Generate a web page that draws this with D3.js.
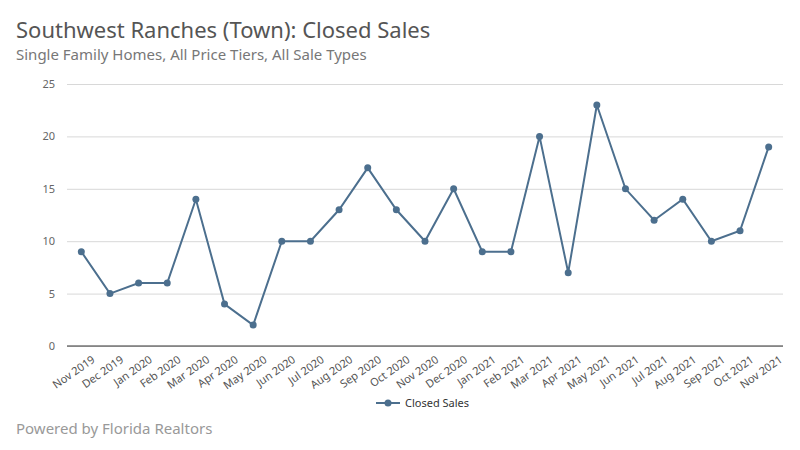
<!DOCTYPE html>
<html><head><meta charset="utf-8">
<script src="https://cdn.jsdelivr.net/npm/d3@7"></script>
<style>body{margin:0;background:#fff;font-family:"Noto Sans",sans-serif}</style>
</head><body><svg id="c" width="800" height="450"></svg>
<script>
const months = ["Nov 2019","Dec 2019","Jan 2020","Feb 2020","Mar 2020","Apr 2020","May 2020","Jun 2020","Jul 2020","Aug 2020","Sep 2020","Oct 2020","Nov 2020","Dec 2020","Jan 2021","Feb 2021","Mar 2021","Apr 2021","May 2021","Jun 2021","Jul 2021","Aug 2021","Sep 2021","Oct 2021","Nov 2021"];
const closedSales = [9,5,6,6,14,4,2,10,10,13,17,13,10,15,9,9,20,7,23,15,12,14,10,11,19];
const yTicks = [0,5,10,15,20,25];
const color = "#4c6f8e";
const svg = d3.select("#c");
const L=67,R=783,T=84,B=346;
const x = d3.scalePoint().domain(months).range([L,R]).padding(0.5);
const y = d3.scaleLinear().domain([0,25]).range([B,T]);
svg.append("text").attr("x",16).attr("y",38).attr("font-size",22).attr("fill","#555").text("Southwest Ranches (Town): Closed Sales");
svg.append("text").attr("x",16).attr("y",60).attr("font-size",15).attr("fill","#777").text("Single Family Homes, All Price Tiers, All Sale Types");
const ya = svg.append("g").attr("transform",`translate(${L},0)`).call(d3.axisLeft(y).tickValues(yTicks).tickSize(-(R-L)).tickPadding(12));
ya.select(".domain").remove();
ya.selectAll("line").attr("stroke","#d8d8d8");
ya.selectAll("text").attr("font-size",11).attr("fill","#666").attr("font-family","Noto Sans");
svg.append("line").attr("x1",L).attr("x2",R).attr("y1",B).attr("y2",B).attr("stroke","#333");
const xa = svg.append("g").attr("transform",`translate(0,${B})`).call(d3.axisBottom(x).tickSize(0).tickPadding(6));
xa.select(".domain").remove();
xa.selectAll("text").attr("font-size",11).attr("fill","#555").attr("font-family","Noto Sans")
  .attr("text-anchor","end").attr("transform","translate(6,4) rotate(-35)");
svg.append("path").datum(closedSales).attr("fill","none").attr("stroke",color).attr("stroke-width",2)
  .attr("d",d3.line().x((d,i)=>x(months[i])).y(d=>y(d)));
svg.selectAll("circle.p").data(closedSales).join("circle").attr("class","p")
  .attr("cx",(d,i)=>x(months[i])).attr("cy",d=>y(d)).attr("r",3.5).attr("fill",color);
const lg = svg.append("g");
lg.append("line").attr("x1",376).attr("x2",400).attr("y1",403).attr("y2",403).attr("stroke",color).attr("stroke-width",2);
lg.append("circle").attr("cx",388).attr("cy",403).attr("r",3.5).attr("fill",color);
lg.append("text").attr("x",405).attr("y",407).attr("font-size",11).attr("fill","#333").text("Closed Sales");
svg.append("text").attr("x",16).attr("y",434).attr("font-size",15).attr("fill","#999").text("Powered by Florida Realtors");
</script></body></html>
